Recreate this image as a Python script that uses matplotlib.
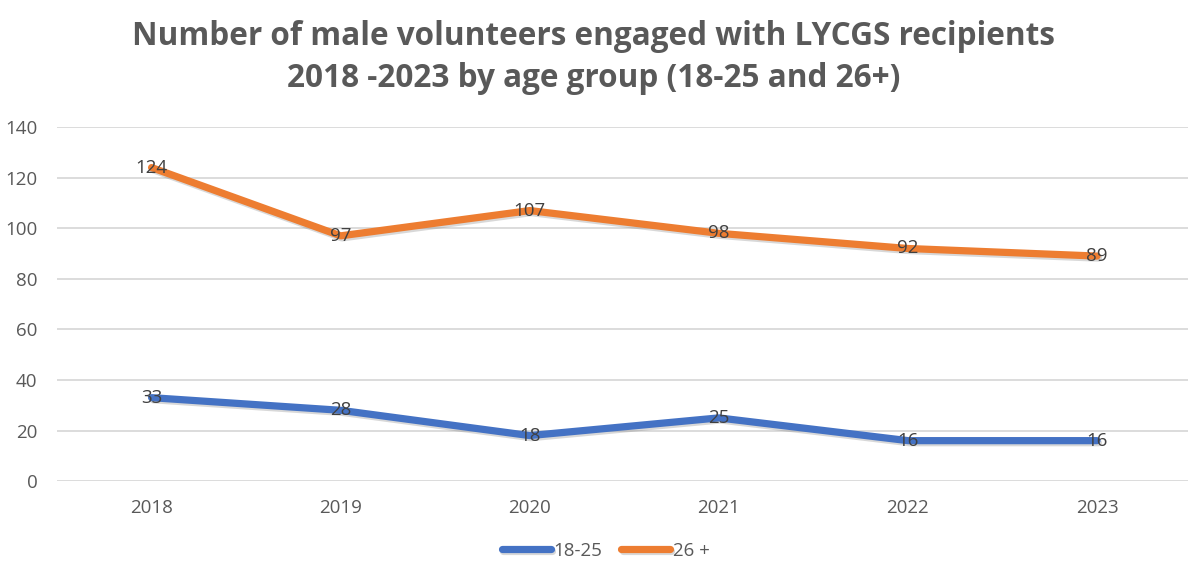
import matplotlib
matplotlib.use("Agg")
import matplotlib.pyplot as plt
import matplotlib.patheffects as pe

years = ["2018", "2019", "2020", "2021", "2022", "2023"]
young = [33, 28, 18, 25, 16, 16]
older = [124, 97, 107, 98, 92, 89]
series_names = ["18-25", "26 +"]
yticks = [0, 20, 40, 60, 80, 100, 120, 140]

plt.rcParams['font.family'] = ['Open Sans', 'DejaVu Sans']

fig = plt.figure(figsize=(11.88, 5.66), dpi=100)
ax = fig.add_axes([0.048, 0.150, 0.955, 0.6254])

x = list(range(len(years)))
shadow = [pe.SimpleLineShadow(offset=(1, -1.5), shadow_color='gray', alpha=0.3), pe.Normal()]
l1, = ax.plot(x, young, color='#4472C4', lw=5.2, solid_capstyle='round',
              solid_joinstyle='round', path_effects=shadow, label=series_names[0], zorder=3)
l2, = ax.plot(x, older, color='#ED7D31', lw=5.2, solid_capstyle='round',
              solid_joinstyle='round', path_effects=shadow, label=series_names[1], zorder=3)

for xi, v in zip(x, young):
    ax.text(xi, v, str(v), ha='center', va='center', fontsize=13.5, color='#404040', zorder=4)
for xi, v in zip(x, older):
    ax.text(xi, v, str(v), ha='center', va='center', fontsize=13.5, color='#404040', zorder=4)

ax.set_xlim(-0.5, 5.5)
ax.set_ylim(0, 140)
ax.set_yticks(yticks)
ax.set_xticks(x)
ax.set_xticklabels(years)
ax.yaxis.grid(True, color='#D9D9D9', lw=1.3)
ax.set_axisbelow(True)
for s in ax.spines.values():
    s.set_visible(False)
ax.tick_params(axis='both', length=0, labelsize=13.5, labelcolor='#595959')
ax.tick_params(axis='y', pad=14)
ax.tick_params(axis='x', pad=13)

fig.text(0.5, 0.965, "Number of male volunteers engaged with LYCGS recipients\n2018 -2023 by age group (18-25 and 26+)",
         ha='center', va='top', fontsize=22.7, fontweight='bold', color='#595959', linespacing=1.35)

leg = fig.legend(handles=[l1, l2], loc='lower center', bbox_to_anchor=(0.51, -0.012), ncol=2,
                 frameon=False, fontsize=13.5, handlelength=2.6, columnspacing=1.0,
                 handletextpad=0.15, borderpad=0.2)
for t in leg.get_texts():
    t.set_color('#595959')

fig.savefig("out.png", dpi=100)
